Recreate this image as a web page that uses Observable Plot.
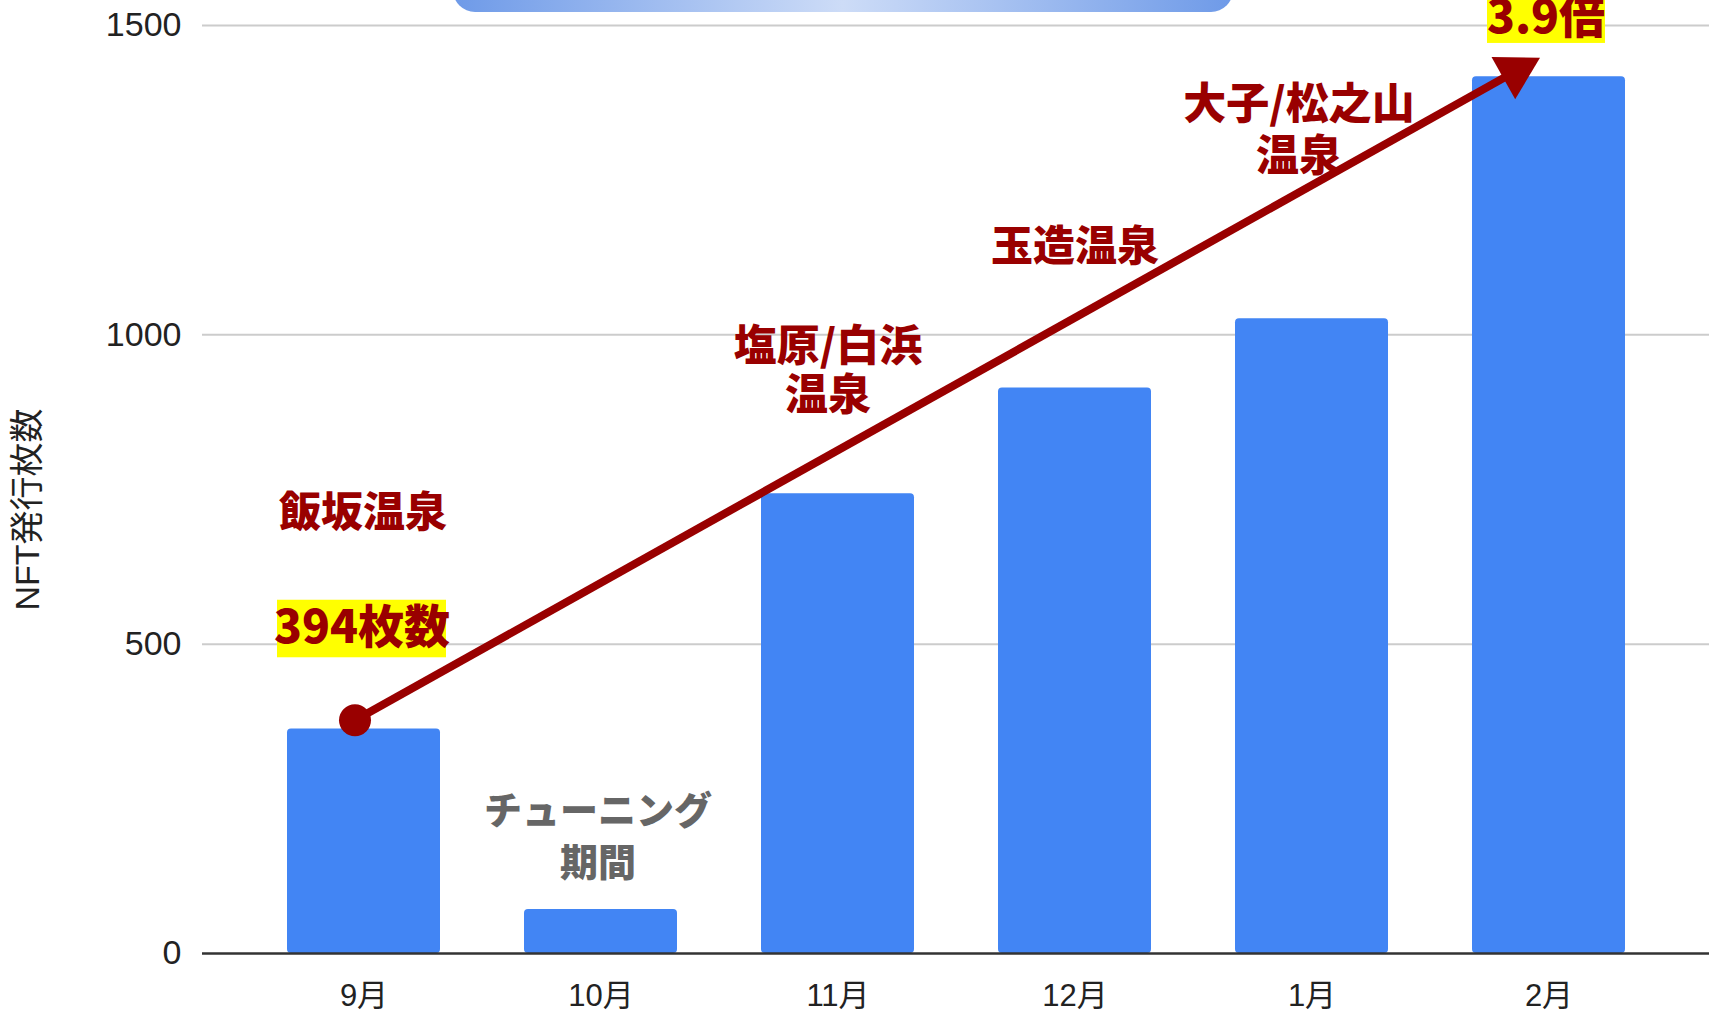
<!DOCTYPE html>
<html><head><meta charset="utf-8">
<script src="https://cdn.jsdelivr.net/npm/d3@7"></script>
<script src="https://cdn.jsdelivr.net/npm/@observablehq/plot@0.6"></script>
<style>
html,body{margin:0;padding:0;background:#fff;overflow:hidden}
#wrap{position:relative;width:1715px;height:1011px}
#titlebox{position:absolute;left:453px;top:-40px;width:780px;height:52px;border-radius:22px;
  background:linear-gradient(90deg,#6e9ae8 0%,#cddcf7 50%,#6e9ae8 100%)}
</style></head>
<body><div id="wrap"><div id="titlebox"></div></div>
<script>
// ---- data ----
const months = ["9月", "10月", "11月", "12月", "1月", "2月"];
const counts = [363, 71, 743, 914, 1026, 1417];
const yTicks = [0, 500, 1000, 1500];
const yLabel = "NFT発行枚数";
// growth arrow (data units)
const arrowStart = {month: "9月", value: 377};
const arrowEnd = {month: "2月", value: 1448};
// annotations (anchored to month / value)
const noteIizaka = {month: "9月", value: 711, text: "飯坂温泉"};
const noteShiobara = {month: "11月", value: 944, text: "塩原/白浜\n温泉"};
const noteTamatsukuri = {month: "12月", value: 1141, text: "玉造温泉"};
const noteDaigo = {month: "1月", value: 1334, text: "大子/松之山\n温泉"};
const noteTuning = {month: "10月", value: 194, text: "チューニング\n期間"};
const hlStart = {month: "9月", value: 525, lo: 478, hi: 571, text: "394枚数"};
const hlEnd = {month: "2月", value: 1512, lo: 1471, hi: 1600, text: "3.9倍"};

const RED = "#990000";
const JP = "'Noto Sans CJK JP','Noto Sans',sans-serif";
const SANS = "'Liberation Sans','Noto Sans CJK JP',sans-serif";

function build(extra) {
  return Plot.plot({
    width: 1715, height: 1011,
    marginLeft: 202, marginRight: 6, marginTop: 25, marginBottom: 58,
    x: {domain: months, padding: 0.355},
    y: {domain: [0, 1500]},
    style: {fontFamily: SANS, color: "#222", background: "transparent"},
    marks: [
      Plot.ruleY(yTicks.filter(d => d > 0), {stroke: "#cccccc", strokeWidth: 2}),
      Plot.barY(counts, {x: months, y: counts, fill: "#4285f4", rx: 4}),
      Plot.ruleY([0], {stroke: "#333333", strokeWidth: 2.5}),
      Plot.axisY({ticks: yTicks, tickFormat: d => String(d), tickSize: 0, tickPadding: 21, fontSize: 34, label: null}),
      Plot.axisX({tickSize: 0, tickPadding: 30, fontSize: 31, label: null}),
      Plot.text([yLabel], {frameAnchor: "left", textAnchor: "middle", rotate: -90, dx: -174, dy: 20, fontSize: 34, fill: "#222", fontFamily: SANS}),
      Plot.barY([hlStart], {x: "month", y1: "lo", y2: "hi", fill: "#ffff00", insetLeft: -10, insetRight: -6}),
      Plot.barY([hlEnd], {x: "month", y1: "lo", y2: "hi", fill: "#ffff00", insetLeft: 15, insetRight: 20}),
      Plot.text([hlStart], {x: "month", y: "value", text: "text", dx: -2, fontSize: 46, fontWeight: 900, fill: RED, fontFamily: JP}),
      Plot.text([hlEnd], {x: "month", y: "value", text: "text", dx: -3, fontSize: 46, fontWeight: 900, fill: RED, fontFamily: JP}),
      Plot.text([noteIizaka], {x: "month", y: "value", text: "text", dx: -1, fontSize: 42, fontWeight: 900, fill: RED, fontFamily: JP}),
      Plot.text([noteShiobara], {x: "month", y: "value", text: "text", dx: -10, fontSize: 43, fontWeight: 900, fill: RED, lineHeight: 1.15, fontFamily: JP}),
      Plot.text([noteTamatsukuri], {x: "month", y: "value", text: "text", fontSize: 42, fontWeight: 900, fill: RED, fontFamily: JP}),
      Plot.text([noteDaigo], {x: "month", y: "value", text: "text", dx: -13, fontSize: 43, fontWeight: 900, fill: RED, lineHeight: 1.2, fontFamily: JP}),
      Plot.text([noteTuning], {x: "month", y: "value", text: "text", dx: -3, fontSize: 38, fontWeight: 900, fill: "#666666", lineHeight: 1.37, fontFamily: JP}),
      ...extra
    ]
  });
}

// first pass: read scales to orient the arrowhead
const first = build([]);
const sx = first.scale("x"), sy = first.scale("y");
const X1 = sx.apply(arrowStart.month), Y1 = sy.apply(arrowStart.value);
const X2 = sx.apply(arrowEnd.month), Y2 = sy.apply(arrowEnd.value);
const theta = Math.atan2(Y2 - Y1, X2 - X1);
const a = 14; // triangle half-height unit
const arrowMarks = [
  Plot.arrow([{m1: arrowStart.month, v1: arrowStart.value, m2: arrowEnd.month, v2: arrowEnd.value}],
    {x1: "m1", y1: "v1", x2: "m2", y2: "v2", dx: -9, headLength: 0, insetEnd: 14, stroke: RED, strokeWidth: 8, strokeLinecap: "butt"}),
  Plot.dot([arrowEnd], {x: "month", y: "value", dx: -9 - 2 * a * Math.cos(theta), dy: -2 * a * Math.sin(theta),
    symbol: "triangle", r: a * Math.sqrt(3 * Math.sqrt(3) / Math.PI), rotate: theta * 180 / Math.PI + 90, fill: RED, stroke: "none"}),
  Plot.dot([arrowStart], {x: "month", y: "value", dx: -9, r: 16, fill: RED, stroke: "none"})
];
const chart = build(arrowMarks);
document.getElementById("wrap").prepend(chart);
</script>
</body></html>
